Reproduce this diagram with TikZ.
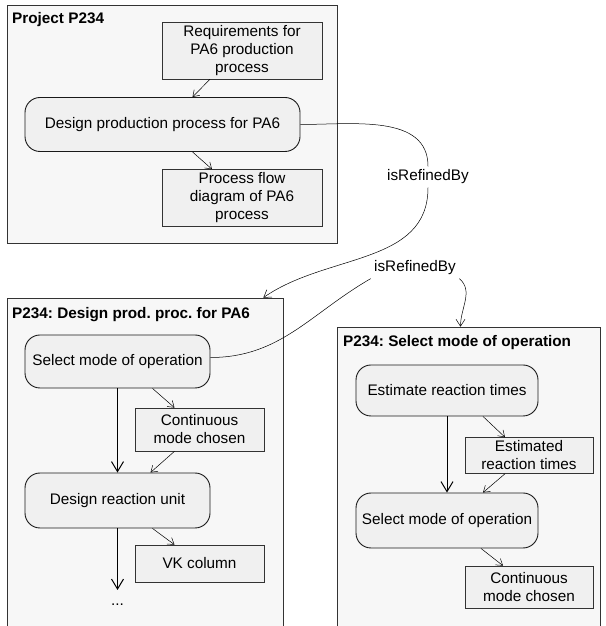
\documentclass[tikz,border=0pt]{standalone}
\usepackage{fontspec}
\setmainfont{Liberation Sans}
\usetikzlibrary{arrows.meta, positioning}
\frenchspacing

\newcommand{\diagfont}{\fontsize{15.3}{18}\selectfont}

\tikzset{
  container/.style={draw=black!80, line width=0.6pt, fill=black!3, minimum width=#1, inner sep=0pt},
  activity/.style={draw=black!90, line width=0.9pt, fill=black!6, rounded corners=15pt, align=center, minimum height=54pt},
  product/.style={draw=black!80, line width=0.6pt, fill=black!6, align=center},
  flow/.style={-{Straight Barb[length=10pt,width=12pt]}, line width=1pt},
  io/.style={-{Straight Barb[length=6pt,width=8pt]}, line width=0.5pt},
  refine/.style={-{Straight Barb[length=7pt,width=9pt]}, line width=0.5pt},
  ctitle/.style={font=\diagfont\bfseries, anchor=base west, inner sep=0pt}
}

\begin{document}
\begin{tikzpicture}[x=1pt, y=1pt, font=\diagfont]
		\useasboundingbox (0,0) rectangle (605,626);
		\clip (0,0) rectangle (605,626);
		% Containers
		\node[container=330pt, minimum height=238pt] (proj) at (172,502) {};
		\node[container=276pt, minimum height=342pt] (dpp) at (145,157) {};
		\node[container=263pt, minimum height=313pt] (smo) at (468.5,142.5) {};
		\node[ctitle] (projtitle) at (12,602) {Project P234};
		\node[ctitle] (dpptitle) at (12,307) {P234: Design prod. proc. for PA6};
		\node[ctitle] (smotitle) at (343,279) {P234: Select mode of operation};
		% Project level
		\node[product, minimum width=160pt, minimum height=55pt] (req) at (242,575.5) {Requirements for\\PA6 production\\process};
		\node[activity, minimum width=275pt] (design) at (162.5,501.5) {Design production process for PA6};
		\node[product, minimum width=160pt, minimum height=56pt] (pfd) at (242,428) {Process flow\\diagram of PA6\\process};
		\draw[io] ([xshift=-32pt]req.south) -- ([xshift=30pt]design.north);
		\draw[io] ([xshift=30pt]design.south) -- ([xshift=-30pt]pfd.north);
		% Design prod. proc.
		\node[activity, minimum width=185pt, minimum height=53pt] (selmode) at (117.5,264.5) {Select mode of operation};
		\node[product, minimum width=129pt, minimum height=43pt] (contmode) at (199.5,196.5) {Continuous\\mode chosen};
		\node[activity, minimum width=185pt, minimum height=55pt] (reactor) at (117.5,125.5) {Design reaction unit};
		\node[product, minimum width=129pt, minimum height=37pt] (vk) at (199.5,62.5) {VK column};
		\coordinate (more) at (117.5,36);
		\node (dots) at (117.5,21) {...};
		\draw[flow] (selmode) -- (reactor);
		\draw[flow] (reactor) -- (more);
		\draw[io] ([xshift=35pt]selmode.south) -- ([xshift=-25pt]contmode.north);
		\draw[io] ([xshift=-25pt]contmode.south) -- ([xshift=33pt]reactor.north);
		\draw[io] ([xshift=35pt]reactor.south) -- ([xshift=-25pt]vk.north);
		% Select mode of operation
		\node[activity, minimum width=182pt, minimum height=51pt] (estimate) at (447,235.5) {Estimate reaction times};
		\node[product, minimum width=128pt, minimum height=35pt] (times) at (529,170.5) {Estimated\\reaction times};
		\node[activity, minimum width=182pt, minimum height=55pt] (selmode2) at (447,105.5) {Select mode of operation};
		\node[product, minimum width=128pt, minimum height=42pt] (contmode2) at (529,39) {Continuous\\mode chosen};
		\draw[flow] (estimate) -- (selmode2);
		\draw[io] ([xshift=36pt]estimate.south) -- ([xshift=-24pt]times.north);
		\draw[io] ([xshift=-24pt]times.south) -- ([xshift=36pt]selmode2.north);
		\draw[io] ([xshift=34pt]selmode2.south) -- ([xshift=-26pt]contmode2.north);
		% Refinements
		\node (ref1) at (428,449) {isRefinedBy};
		\node (ref2) at (415,358) {isRefinedBy};
		\draw[line width=0.5pt] (design.east) to[out=0, in=90] (ref1.north);
		\draw[refine] (ref1.south) to[out=-90, in=35] ([xshift=-20pt]dpp.north east);
		\draw[line width=0.5pt] ([yshift=4pt]selmode.east) to[out=0, in=-150] (ref2.south west);
		\draw[refine] (ref2.south east) to[out=-40, in=90] ([xshift=-8pt]smo.north);
\end{tikzpicture}
\end{document}
